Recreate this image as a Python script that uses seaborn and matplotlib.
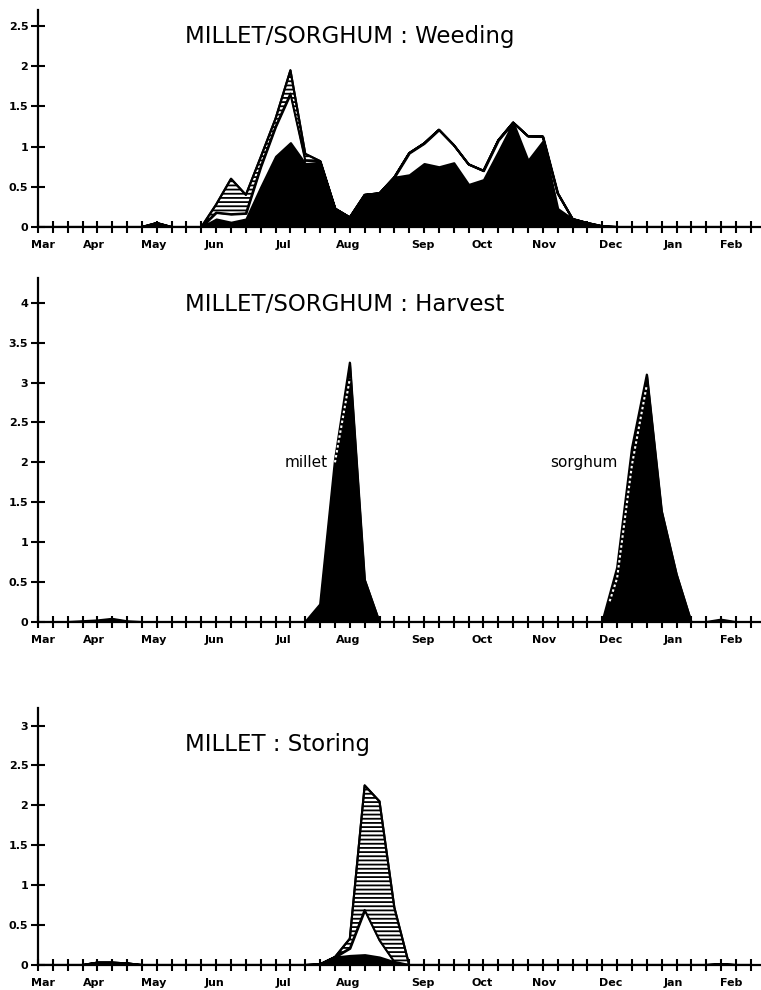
import numpy as np
import matplotlib
matplotlib.use('Agg')
import matplotlib.pyplot as plt
import seaborn as sns

# weekly positions, 4 ticks per month, Mar .. Feb
weeks = np.arange(49)
month_names = ['Mar', 'Apr', 'May', 'Jun', 'Jul', 'Aug',
               'Sep', 'Oct', 'Nov', 'Dec', 'Jan', 'Feb']
month_pos = [0.36, 3.8, 7.8, 11.9, 16.5, 20.9, 25.9, 29.9, 34.1, 38.6, 42.8, 46.7]

# MILLET/SORGHUM : Weeding  (layer thicknesses)
weed_black = [0, 0, 0, 0, 0, 0, 0, 0, 0.05, 0, 0, 0,
              0.10, 0.06, 0.10, 0.50, 0.88, 1.05, 0.79, 0.80, 0.23, 0.12, 0.40, 0.42,
              0.62, 0.65, 0.79, 0.75, 0.80, 0.53, 0.59, 0.94, 1.30, 0.83, 1.07, 0.23,
              0.10, 0.05, 0.01, 0, 0, 0, 0, 0, 0, 0, 0, 0, 0]
weed_white = [0, 0, 0, 0, 0, 0, 0, 0, 0, 0, 0, 0,
              0.08, 0.10, 0.07, 0.25, 0.37, 0.61, 0.04, 0.02, 0, 0, 0, 0,
              0, 0.27, 0.25, 0.46, 0.22, 0.25, 0.11, 0.14, 0, 0.30, 0.055, 0.19,
              0, 0, 0, 0, 0, 0, 0, 0, 0, 0, 0, 0, 0]
weed_hatch = [0, 0, 0, 0, 0, 0, 0, 0, 0, 0, 0, 0,
              0.10, 0.44, 0.23, 0.12, 0.10, 0.29, 0.08, 0, 0, 0, 0, 0,
              0, 0, 0, 0, 0, 0, 0, 0, 0, 0, 0, 0,
              0, 0, 0, 0, 0, 0, 0, 0, 0, 0, 0, 0, 0]

# MILLET/SORGHUM : Harvest
harvest_total = [0, 0, 0, 0.01, 0.02, 0.04, 0.01, 0, 0, 0, 0, 0,
                 0, 0, 0, 0, 0, 0, 0, 0.22, 2.03, 3.25, 0.53, 0,
                 0, 0, 0, 0, 0, 0, 0, 0, 0, 0, 0, 0,
                 0, 0, 0, 0.68, 2.18, 3.10, 1.39, 0.60, 0, 0, 0.03, 0, 0]
nan = np.nan
# boundary shown as a white dotted line inside the harvest peaks
harvest_split_x = [20, 21, 38.5, 39, 40, 41]
harvest_split_y = [2.0, 3.05, 0.26, 0.55, 1.97, 2.97]

# MILLET : Storing  (layer thicknesses)
store_black = [0, 0, 0, 0, 0.03, 0.03, 0.02, 0, 0, 0, 0, 0,
               0, 0, 0, 0, 0, 0, 0, 0.01, 0.10, 0.12, 0.13, 0.10,
               0.04, 0, 0, 0, 0, 0, 0, 0, 0, 0, 0, 0,
               0, 0, 0, 0, 0, 0, 0, 0, 0, 0, 0.01, 0, 0]
store_white = [0] * 21 + [0.09, 0.56, 0.21, 0] + [0] * 24
store_hatch = [0] * 21 + [0.12, 1.56, 1.74, 0.68] + [0] * 24

sns.set_style('ticks')
plt.rcParams['font.family'] = ['DejaVu Sans']
plt.rcParams['hatch.linewidth'] = 1.3
for k in ['text.color', 'axes.edgecolor', 'axes.labelcolor', 'xtick.color', 'ytick.color']:
    plt.rcParams[k] = 'black'

fig = plt.figure(figsize=(7.61, 9.9), dpi=100)


def stacked(ax, black, white=None, hatch=None):
    b = np.array(black, dtype=float)
    ax.fill_between(weeks, 0, b, facecolor='black', edgecolor='black', lw=1.2)
    top = b
    if white is not None:
        top2 = top + np.array(white)
        ax.fill_between(weeks, top, top2, facecolor='white', edgecolor='black', lw=1.5)
        top = top2
    if hatch is not None:
        top2 = top + np.array(hatch)
        ax.fill_between(weeks, top, top2, facecolor='white', edgecolor='black',
                        hatch='----', lw=1.5)
        top = top2
    sns.lineplot(x=weeks, y=top, color='black', lw=1.5, ax=ax)


def style(ax, ymax, yticks):
    ax.set_xlim(0, 48.69)
    ax.set_ylim(0, ymax)
    sns.despine(ax=ax)
    for s in ['left', 'bottom']:
        ax.spines[s].set_linewidth(1.6)
    ax.set_xticks(weeks)
    ax.set_xticklabels([])
    ax.set_xticks(month_pos, minor=True)
    ax.set_xticklabels(month_names, minor=True)
    ax.xaxis.remove_overlapping_locs = False
    ax.tick_params(axis='x', which='major', direction='inout', length=9, width=1.5)
    ax.tick_params(axis='x', which='minor', length=0, pad=9, labelsize=8)
    ax.set_yticks(yticks)
    ax.set_yticklabels(['%g' % t for t in yticks])
    ax.tick_params(axis='y', direction='inout', length=10, width=1.5, pad=2, labelsize=8)
    for lab in ax.get_xticklabels(minor=True) + ax.get_yticklabels():
        lab.set_fontweight('bold')
    ax.set_xlabel('')
    ax.set_ylabel('')


# top panel
ax1 = fig.add_axes([0.0499, 0.7707, 0.9501, 0.2192])
stacked(ax1, weed_black, weed_white, weed_hatch)
style(ax1, 2.7, [0, 0.5, 1, 1.5, 2, 2.5])
ax1.text(9.9, 2.285, 'MILLET/SORGHUM : Weeding', fontsize=16.5, va='baseline')

# middle panel
ax2 = fig.add_axes([0.0499, 0.3717, 0.9501, 0.3475])
stacked(ax2, harvest_total)
ax2.plot(harvest_split_x[:2], harvest_split_y[:2], color='white', lw=1.5, ls=(0, (1.2, 1.2)))
ax2.plot(harvest_split_x[2:], harvest_split_y[2:], color='white', lw=1.5, ls=(0, (1.2, 1.2)))
style(ax2, 4.31, [0, 0.5, 1, 1.5, 2, 2.5, 3, 3.5, 4])
ax2.text(9.9, 3.90, 'MILLET/SORGHUM : Harvest', fontsize=16.5, va='baseline')
ax2.text(19.5, 2.0, 'millet', fontsize=11, ha='right', va='center')
ax2.text(39.0, 2.0, 'sorghum', fontsize=11, ha='right', va='center')

# bottom panel
ax3 = fig.add_axes([0.0499, 0.02525, 0.9501, 0.2596])
stacked(ax3, store_black, store_white, store_hatch)
style(ax3, 3.22, [0, 0.5, 1, 1.5, 2, 2.5, 3])
ax3.text(9.9, 2.685, 'MILLET : Storing', fontsize=16.5, va='baseline')

fig.savefig('out.png', dpi=100)
